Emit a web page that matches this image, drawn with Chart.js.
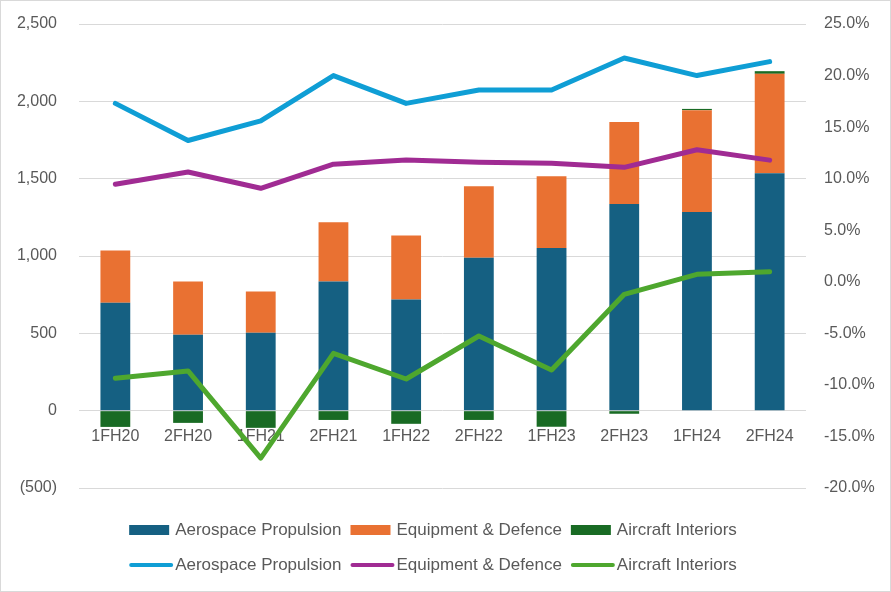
<!DOCTYPE html>
<html>
<head>
<meta charset="utf-8">
<script src="https://cdn.jsdelivr.net/npm/chart.js@4.4.0/dist/chart.umd.min.js"></script>
<style>
  html, body { margin: 0; padding: 0; background: #fff; }
  #wrap { width: 891px; height: 592px; }
</style>
</head>
<body>
<div id="wrap"><canvas id="grafico" width="891" height="592"></canvas></div>
<script>
// Períodos (eixo X)
const periodos = ['1FH20', '2FH20', '1FH21', '2FH21', '1FH22', '2FH22', '1FH23', '2FH23', '1FH24', '2FH24'];

// Barras (eixo esquerdo)
const barraPropulsao = [698, 491, 504, 835, 719, 988, 1052, 1336, 1285, 1535];
const barraEquipamento = [338, 344, 267, 383, 414, 463, 464, 531, 658, 643];
const barraInteriores = [-105, -79, -111, -60, -85, -60, -104, -20, 8, 17];

// Linhas (eixo direito, %)
const linhaPropulsao = [17.3, 13.7, 15.6, 20.0, 17.3, 18.6, 18.6, 21.7, 20.0, 21.35];
const linhaEquipamento = [9.46, 10.65, 9.07, 11.4, 11.8, 11.6, 11.5, 11.1, 12.8, 11.8];
const linhaInteriores = [-9.36, -8.65, -17.1, -6.94, -9.43, -5.26, -8.55, -1.22, 0.72, 0.98];

// Nomes das séries
const nomes = ['Aerospace Propulsion', 'Equipment & Defence', 'Aircraft Interiors'];

const corTexto = '#595959';
const corGrade = '#D9D9D9';
const fonte = '"Liberation Sans", Arial, sans-serif';

Chart.defaults.font.family = fonte;
Chart.defaults.font.size = 16;
Chart.defaults.color = corTexto;

// Formato do eixo esquerdo: milhares com vírgula, negativos entre parênteses
function formatoValor(v) {
  const s = Math.abs(v).toLocaleString('en-US');
  return v < 0 ? '(' + s + ')' : s;
}

// Legenda desenhada à mão: duas linhas (barras em cima, linhas em baixo)
const legendaManual = {
  id: 'legendaManual',
  afterDraw(chart) {
    const ctx = chart.ctx;
    const centro = 433;
    ctx.save();
    ctx.font = '17px ' + fonte;
    ctx.textBaseline = 'middle';
    ctx.textAlign = 'left';
    const linhas = [
      { y: 530, itens: chart.data.datasets.filter(d => d.type === 'bar') },
      { y: 565, itens: chart.data.datasets.filter(d => d.type === 'line') }
    ];
    linhas.forEach(linha => {
      const larguras = linha.itens.map(d => 46 + ctx.measureText(d.label).width);
      const total = larguras.reduce((a, b) => a + b, 0) + 9 * (larguras.length - 1);
      let x = centro - total / 2;
      linha.itens.forEach((d, i) => {
        if (d.type === 'bar') {
          ctx.fillStyle = d.backgroundColor;
          ctx.fillRect(x, linha.y - 5, 40, 10);
        } else {
          ctx.strokeStyle = d.borderColor;
          ctx.lineWidth = 4;
          ctx.lineCap = 'round';
          ctx.beginPath();
          ctx.moveTo(x + 2, linha.y);
          ctx.lineTo(x + 42, linha.y);
          ctx.stroke();
        }
        ctx.fillStyle = corTexto;
        ctx.fillText(d.label, x + 46, linha.y);
        x += larguras[i] + 9;
      });
    });
    ctx.restore();
  }
};

// Moldura cinza à volta do gráfico
const moldura = {
  id: 'moldura',
  afterDraw(chart) {
    const ctx = chart.ctx;
    ctx.save();
    ctx.strokeStyle = corGrade;
    ctx.lineWidth = 1;
    ctx.strokeRect(0.5, 0.5, chart.width - 1, chart.height - 1);
    ctx.restore();
  }
};

const dados = {
  labels: periodos,
  datasets: [
    { type: 'bar', label: nomes[0], data: barraPropulsao, backgroundColor: '#156082', yAxisID: 'y', order: 2 },
    { type: 'bar', label: nomes[1], data: barraEquipamento, backgroundColor: '#E97132', yAxisID: 'y', order: 2 },
    { type: 'bar', label: nomes[2], data: barraInteriores, backgroundColor: '#196B24', yAxisID: 'y', order: 2 },
    { type: 'line', label: nomes[0], data: linhaPropulsao, borderColor: '#0F9ED5', backgroundColor: '#0F9ED5', yAxisID: 'y1', order: 1 },
    { type: 'line', label: nomes[1], data: linhaEquipamento, borderColor: '#A02B93', backgroundColor: '#A02B93', yAxisID: 'y1', order: 1 },
    { type: 'line', label: nomes[2], data: linhaInteriores, borderColor: '#4EA72E', backgroundColor: '#4EA72E', yAxisID: 'y1', order: 1 }
  ]
};

new Chart(document.getElementById('grafico'), {
  data: dados,
  options: {
    responsive: false,
    devicePixelRatio: 1,
    animation: false,
    layout: { padding: { top: 24, bottom: 104, left: 0, right: 0 } },
    datasets: {
      bar: { barPercentage: 0.41, categoryPercentage: 1 },
      line: { borderWidth: 5, pointRadius: 0, tension: 0, borderCapStyle: 'round', borderJoinStyle: 'round', fill: false }
    },
    plugins: {
      legend: { display: false },
      tooltip: { enabled: false }
    },
    scales: {
      x: {
        type: 'category',
        position: { y: 0 },
        stacked: true,
        grid: { display: false },
        border: { display: false },
        ticks: { padding: 8, maxRotation: 0, autoSkip: false }
      },
      y: {
        position: 'left',
        stacked: true,
        min: -500,
        max: 2500,
        // marca de escala transparente só para afastar os rótulos
        grid: { color: corGrade, lineWidth: 1, drawTicks: true, tickLength: 22, tickColor: 'rgba(0,0,0,0)' },
        border: { display: false },
        ticks: { stepSize: 500, padding: 0, callback: v => formatoValor(v) },
        afterFit: s => { s.width = 79; }
      },
      y1: {
        position: 'right',
        min: -20,
        max: 25,
        grid: { display: false, drawOnChartArea: false, drawTicks: true, tickLength: 18, tickColor: 'rgba(0,0,0,0)' },
        border: { display: false },
        ticks: { stepSize: 5, padding: 0, callback: v => v.toFixed(1) + '%' },
        afterFit: s => { s.width = 85; }
      }
    }
  },
  plugins: [legendaManual, moldura]
});
</script>
</body>
</html>
